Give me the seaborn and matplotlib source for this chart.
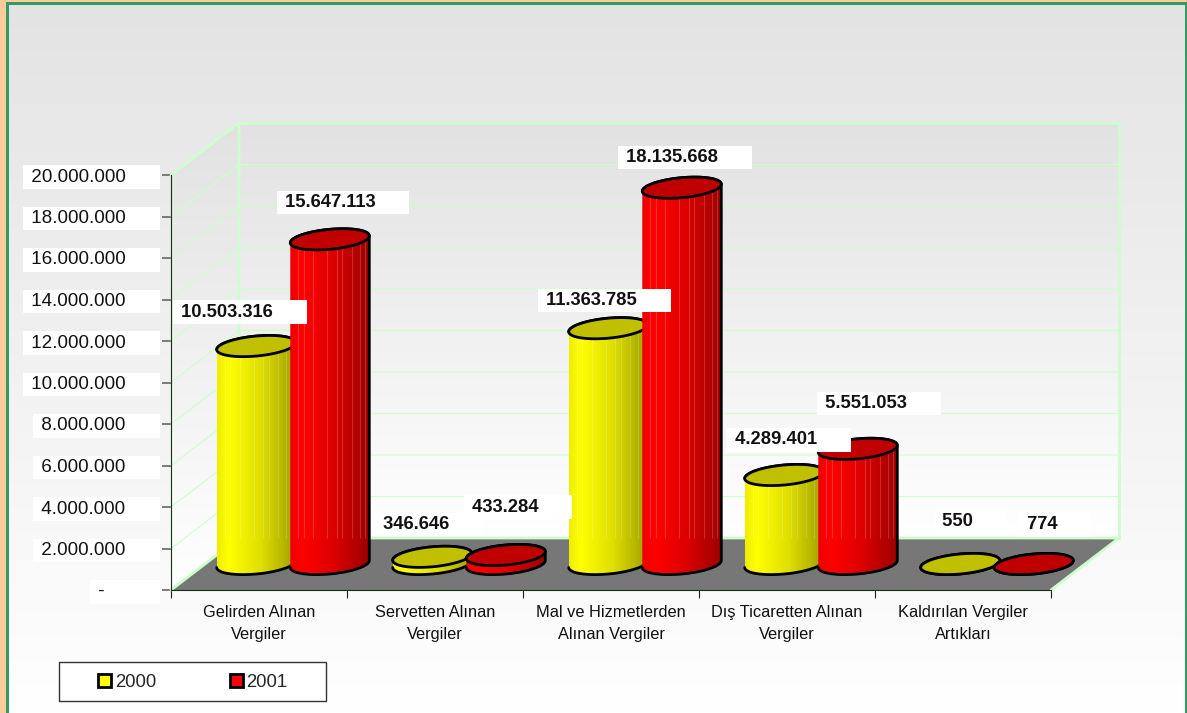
import numpy as np
import pandas as pd
import matplotlib
matplotlib.use('Agg')
import matplotlib.pyplot as plt
import seaborn as sns
from matplotlib.colors import LinearSegmentedColormap
from matplotlib.patches import Patch, Polygon, Rectangle

categories = ['Gelirden Alınan\nVergiler', 'Servetten Alınan\nVergiler',
              'Mal ve Hizmetlerden\nAlınan Vergiler', 'Dış Ticaretten Alınan\nVergiler',
              'Kaldırılan Vergiler\nArtıkları']
values_2000 = [10503316, 346646, 11363785, 4289401, 550]
values_2001 = [15647113, 433284, 18135668, 5551053, 774]
years = ['2000', '2001']
yticks = [0, 2000000, 4000000, 6000000, 8000000, 10000000, 12000000, 14000000, 16000000, 18000000, 20000000]

# label offsets from the top of each cylinder, pixels
label_dx = [[-80, -50], [-54, -39], [-67, -61], [-54, -38], [-23, -12]]
label_dy = [[34, 37], [32, 48], [28, 30], [35, 45], [42, 39]]
stripe_pos = [0.1, 0.17, 0.29, 0.47, 0.59, 0.66, 0.78, 0.88, 0.94]

df = pd.DataFrame({
    'kategori': categories * 2,
    'deger': values_2000 + values_2001,
    'yil': [years[0]] * 5 + [years[1]] * 5,
})

sns.set_style('white')
plt.rcParams['font.family'] = ['Liberation Sans', 'DejaVu Sans']

W, H = 1187, 713
fig = plt.figure(figsize=(W / 100, H / 100), dpi=100)
fig.patch.set_facecolor('#ffcc99')

# page background
bg = fig.add_axes([0, 0, 1, 1], zorder=-1)
bg_cmap = LinearSegmentedColormap.from_list('bg', ['#e3e3e3', '#ffffff'])
bg.imshow(np.linspace(0, 1, 256).reshape(-1, 1), cmap=bg_cmap, aspect='auto', extent=(0, W, H, 0))
bg.add_patch(Rectangle((0, 0), 6, H, fc='#ffcc99', ec='none'))
bg.add_patch(Rectangle((0, 0), W, 2, fc='#ffcc99', ec='none'))
bg.add_patch(Rectangle((6, 2), 3, H, fc='#339966', ec='none'))
bg.add_patch(Rectangle((6, 2), W, 3, fc='#339966', ec='none'))
bg.add_patch(Rectangle((W - 2, 2), 2, H, fc='#339966', ec='none'))
# legend box
bg.add_patch(Rectangle((59, 662), 267, 38.5, fc='white', ec='#333333', lw=1))
bg.set_xlim(0, W)
bg.set_ylim(H, 0)
bg.axis('off')

ax = fig.add_axes([171 / W, (H - 590) / H, 880 / W, 415 / H])
ax.patch.set_visible(False)

sns.barplot(data=df, x='kategori', y='deger', hue='yil', order=categories, width=0.836,
            palette=['#ffff00', '#ff0000'], legend=False, ax=ax)

ax.set_xlim(-0.5, 4.5)
ax.set_ylim(0, 20000000)
ax.set_autoscale_on(False)

depth_x = 68 / 176
depth_y = 52 / 415 * 20000000
px_y = 20000000 / 415
left, right, top = -0.5, 4.5, 20000000
wall_green = '#ccffcc'


def clipped_image(cmap, extent, poly, vertical=False, zorder=1):
    grad = np.linspace(0, 1, 256)
    grad = grad.reshape(-1, 1) if vertical else grad.reshape(1, -1)
    im = ax.imshow(grad, cmap=cmap, aspect='auto', extent=extent, zorder=zorder)
    im.set_clip_box(fig.bbox)
    im.set_clip_path(Polygon(poly, closed=True, transform=ax.transData))
    return im


# walls and floor
wall_cmap = LinearSegmentedColormap.from_list('wall', ['#e2e2e2', '#ffffff'])
back = [(left + depth_x, depth_y), (right + depth_x, depth_y),
        (right + depth_x, top + depth_y), (left + depth_x, top + depth_y)]
side = [(left, 0), (left + depth_x, depth_y), (left + depth_x, top + depth_y), (left, top)]
clipped_image(wall_cmap, (left + depth_x, right + depth_x, depth_y, top + depth_y), back, vertical=True)
clipped_image(wall_cmap, (left, left + depth_x, 0, top + depth_y), side, vertical=True)
for v in yticks[1:-1]:
    ax.plot([left, left + depth_x, right + depth_x], [v, v + depth_y, v + depth_y],
            color=wall_green, lw=0.8, clip_on=False, zorder=2)
floor = [(left, 0), (right, 0), (right + depth_x, depth_y), (left + depth_x, depth_y)]
ax.add_patch(Polygon(floor, closed=True, fc='#777777', ec='none', clip_on=False, zorder=2))
ax.plot([left, left + depth_x, left + depth_x], [top, top + depth_y, depth_y],
        color=wall_green, lw=2, clip_on=False, zorder=3)
ax.plot([left + depth_x, right + depth_x, right + depth_x], [top + depth_y, top + depth_y, depth_y],
        color=wall_green, lw=2, clip_on=False, zorder=3)
ax.plot([left, left + depth_x, right + depth_x, right], [0, depth_y, depth_y, 0],
        color=wall_green, lw=2, clip_on=False, zorder=3)

# cylinders, built from the seaborn bars
body_cmaps = [
    LinearSegmentedColormap.from_list('y', [(0, '#eeee00'), (0.15, '#ffff00'), (0.55, '#e0e000'), (1, '#a0a000')]),
    LinearSegmentedColormap.from_list('r', [(0, '#ee0000'), (0.15, '#ff0000'), (0.55, '#dd0000'), (1, '#9c0000')]),
]
cap_colors = ['#c0c000', '#c00000']
rects = [p for p in ax.patches if isinstance(p, Rectangle) and p.get_width() > 0 and p.get_height() > 0]
n_cat = len(categories)
rects = rects[:n_cat * 2]
t = np.linspace(0, 2 * np.pi, 121)
tops = {}
for i in range(n_cat):
    for j in range(2):
        rect = rects[j * n_cat + i]
        rect.set_visible(False)
        cx = rect.get_x() + rect.get_width() / 2 + depth_x / 2
        a = 39.5 / 176
        base = depth_y / 2
        value = rect.get_height()
        bv, tilt = 10 * px_y, 3.5 * px_y
        ex = cx + a * np.cos(t)
        ey = bv * np.sin(t) + tilt * np.cos(t)
        lower = t[60:121]
        lx = cx + a * np.cos(lower)
        ly = base + bv * np.sin(lower) + tilt * np.cos(lower)
        upper = t[:61]
        ux = cx + a * np.cos(upper)
        uy = base + value + bv * np.sin(upper) + tilt * np.cos(upper)
        sil = np.column_stack([np.r_[lx, ux], np.r_[ly, uy]])
        z = 5 + i + j * 0.5
        clipped_image(body_cmaps[j], (cx - a, cx + a, 0, top), sil, zorder=z)
        if base + value > depth_y:
            lines = ax.vlines(cx - a + 2 * a * np.array(stripe_pos), depth_y, base + value + bv,
                              color='white', alpha=0.18, lw=0.8, zorder=z + 0.1)
            lines.set_clip_box(fig.bbox)
            lines.set_clip_path(Polygon(sil, closed=True, transform=ax.transData))
        ax.plot(sil[:, 0], sil[:, 1], color='black', lw=2, clip_on=False, zorder=z + 0.2, solid_joinstyle='round')
        ax.fill(ex, base + value + ey, fc=cap_colors[j], ec='black', lw=2, clip_on=False, zorder=z + 0.3)
        tops[(i, j)] = (cx, base + value)

# value labels
for i in range(n_cat):
    for j, vals in enumerate([values_2000, values_2001]):
        txt = f'{vals[i]:,}'.replace(',', '.')
        ax.annotate(' ' + txt + ' ' * 6, xy=tops[(i, j)], xytext=(label_dx[i][j], label_dy[i][j]),
                    textcoords='offset pixels', ha='left', va='center', fontsize=13.2, fontweight='bold',
                    color='#111111', zorder=30, annotation_clip=False,
                    bbox=dict(fc='white', ec='none', pad=2.2))

# axes
for s in ['top', 'right']:
    ax.spines[s].set_visible(False)
ax.spines['left'].set_color('#103010')
ax.spines['bottom'].set_color('#103010')
ax.spines['left'].set_zorder(4)
ax.spines['bottom'].set_zorder(4)
ax.set_xlabel('')
ax.set_ylabel('')
ax.set_yticks(yticks)
ylabels = [' ' + (f'{v:,}'.replace(',', '.') + ' ' * 6 if v else '-' + ' ' * 10) for v in yticks]
ax.set_yticklabels(ylabels, fontsize=13.6, color='#111111')
for lab in ax.get_yticklabels():
    lab.set_bbox(dict(fc='white', ec='none', pad=2.2))
ax.tick_params(axis='y', length=6.5, width=1.2, color='#666666', pad=3.5, left=True)
ax.set_xticks(range(n_cat))
ax.set_xticklabels(categories, fontsize=11.8, color='#111111', linespacing=1.65)
ax.set_xticks(np.arange(-0.5, 5), minor=True)
ax.tick_params(axis='x', which='major', length=0, pad=10.5)
ax.tick_params(axis='x', which='minor', length=6, width=0.8, color='#222222', bottom=True)

# legend
handles = [Patch(fc='#ffff00', ec='black', lw=2), Patch(fc='#ff0000', ec='black', lw=2)]
fig.legend(handles, years, ncols=2, loc='center left', bbox_to_anchor=(98 / W, (H - 682.5) / H),
           borderaxespad=0, frameon=False, fontsize=13.3, handlelength=0.7, handleheight=0.7,
           handletextpad=0.2, columnspacing=4.0, borderpad=0)

fig.savefig('out.png', dpi=100, facecolor=fig.get_facecolor())
